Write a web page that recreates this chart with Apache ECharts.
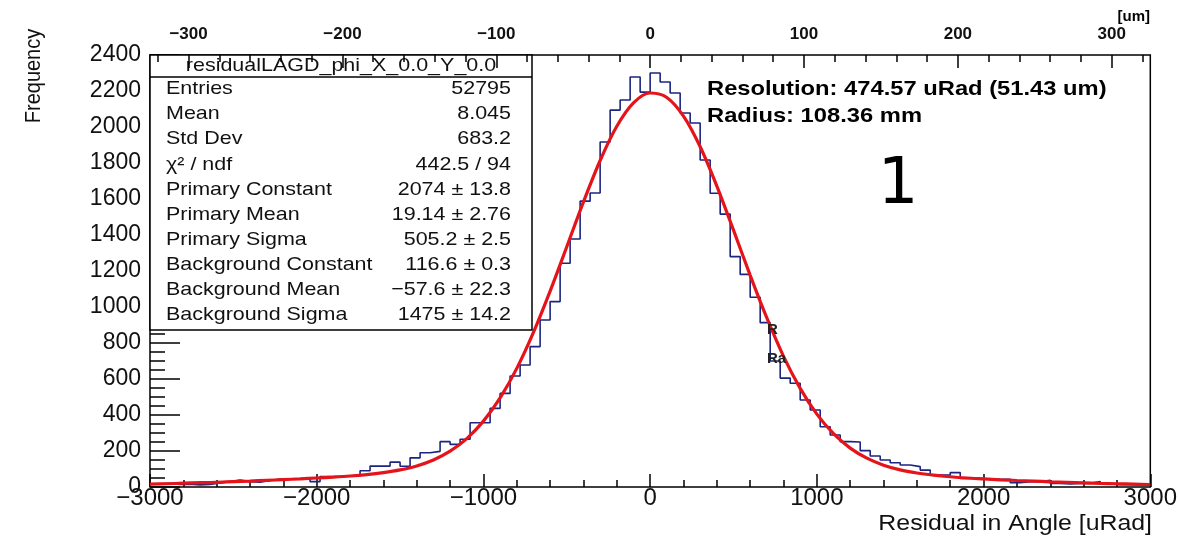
<!DOCTYPE html>
<html>
<head>
<meta charset="utf-8">
<script src="https://cdn.jsdelivr.net/npm/echarts@6/dist/echarts.min.js"></script>
<style>
  html, body { margin: 0; padding: 0; background: #fff; }
  #main { width: 1180px; height: 543px; }
</style>
</head>
<body>
<div id="main"></div>
<script>
/* histogram: 100 bins of 60 uRad from -3000 to 3000 */
const binMin = -3000;
const binWidth = 60;
const counts = [
    18, 20, 14, 16, 12, 14, 22, 30, 38, 30,
    26, 36, 44, 46, 44, 46, 30, 58, 58, 60,
    68, 90, 116, 116, 138, 115, 162, 190, 198, 252,
    237, 265, 357, 357, 437, 520, 617, 678, 780, 928,
    1030, 1243, 1378, 1588, 1633, 1917, 2094, 2150, 2278, 2194,
    2300, 2250, 2189, 2078, 2022, 1817, 1632, 1516, 1280, 1181,
    1054, 913, 700, 605, 576, 483, 428, 335, 289, 252,
    250, 202, 172, 150, 135, 122, 113, 94, 67, 67,
    80, 48, 48, 43, 43, 43, 24, 30, 30, 37,
    20, 17, 20, 20, 31, 17, 13, 13, 12, 10
];

/* red fit curve, read every 100 uRad */
const fitX = [
    -3000, -2900, -2800, -2700, -2600, -2500, -2400, -2300, -2200, -2100,
    -2000, -1900, -1800, -1700, -1600, -1500, -1400, -1300, -1200, -1100,
    -1000, -900, -800, -700, -600, -500, -400, -300, -200, -100,
    0, 100, 200, 300, 400, 500, 600, 700, 800, 900,
    1000, 1100, 1200, 1300, 1400, 1500, 1600, 1700, 1800, 1900,
    2000, 2100, 2200, 2300, 2400, 2500, 2600, 2700, 2800, 2900, 3000
];
const fitY = [
    16, 18, 21, 24, 26, 30, 33, 37, 41, 45,
    50, 55, 61, 69, 80, 95, 117, 150, 199, 269,
    366, 495, 659, 859, 1088, 1335, 1584, 1814, 2004, 2134,
    2189, 2164, 2060, 1890, 1672, 1427, 1176, 939, 726, 548,
    405, 296, 216, 160, 121, 95, 78, 66, 57, 50,
    45, 40, 36, 33, 29, 26, 23, 20, 18, 16, 14
];

/* top axis in um (radius 108.36 mm) */
const radiusMM = 108.36;
const topLabels = [-300, -200, -100, 0, 100, 200, 300];
const topMinorTicks = [-320, -300, -280, -260, -240, -220, -200, -180, -160, -140, -120, -100, -80, -60, -40, -20,
    0, 20, 40, 60, 80, 100, 120, 140, 160, 180, 200, 220, 240, 260, 280, 300, 320];

/* stats box */
const statTitle = 'residualLAGD_phi_X_0.0_Y_0.0';
const statNames = ['Entries', 'Mean', 'Std Dev', 'χ² / ndf', 'Primary Constant', 'Primary Mean',
    'Primary Sigma', 'Background Constant', 'Background Mean', 'Background Sigma'];
const statValues = ['52795', '8.045', '683.2', '442.5 / 94', '2074 ± 13.8', '19.14 ± 2.76',
    '505.2 ± 2.5', '116.6 ± 0.3', '\u221257.6 ± 22.3', '1475 ± 14.2'];

const font = '"Liberation Sans", Arial, Helvetica, sans-serif';
const minus = v => String(v).replace('-', '\u2212');

// histogram outline points at bin edges
let histData = counts.map((c, i) => [binMin + i * binWidth, c]);
histData.push([binMin + counts.length * binWidth, counts[counts.length - 1]]);

let fitData = fitX.map((x, i) => [x, fitY[i]]);

const umMax = 3000 * radiusMM / 1000;

// stats texts
let graphics = [
    {
        type: 'rect', z: 5,
        shape: { x: 150, y: 55, width: 382, height: 275 },
        style: { fill: '#fff', stroke: '#000', lineWidth: 1.5 }
    },
    {
        type: 'line', z: 6,
        shape: { x1: 150, y1: 77, x2: 532, y2: 77 },
        style: { stroke: '#000', lineWidth: 1.5 }
    },
    {
        type: 'text', z: 6, x: 341, y: 66, scaleX: 1.13,
        style: { text: statTitle, font: '19px ' + font, fill: '#111', align: 'center', verticalAlign: 'middle' }
    }
];
statNames.forEach((name, i) => {
    let y = 89 + 25.1 * i;
    graphics.push({
        type: 'text', z: 6, x: 166, y: y, scaleX: 1.13,
        style: { text: name, font: '19px ' + font, fill: '#111', align: 'left', verticalAlign: 'middle' }
    });
    graphics.push({
        type: 'text', z: 6, x: 511, y: y, scaleX: 1.13,
        style: { text: statValues[i], font: '19px ' + font, fill: '#111', align: 'right', verticalAlign: 'middle' }
    });
});

// other texts
graphics.push(
    {
        type: 'text', z: 6, x: 707, y: 89, scaleX: 1.13,
        style: { text: 'Resolution: 474.57 uRad (51.43 um)', font: 'bold 21px ' + font, fill: '#000', verticalAlign: 'middle' }
    },
    {
        type: 'text', z: 6, x: 707, y: 116, scaleX: 1.13,
        style: { text: 'Radius: 108.36 mm', font: 'bold 21px ' + font, fill: '#000', verticalAlign: 'middle' }
    },
    {
        type: 'text', z: 6, x: 898, y: 186,
        style: { text: '1', font: '64px "DejaVu Sans", sans-serif', fill: '#000', align: 'center', verticalAlign: 'middle' }
    },
    {
        type: 'text', z: 6, x: 767, y: 330,
        style: { text: 'R', font: 'bold 15px ' + font, fill: '#222', verticalAlign: 'middle' }
    },
    {
        type: 'text', z: 6, x: 767, y: 359,
        style: { text: 'Ra', font: 'bold 15px ' + font, fill: '#222', verticalAlign: 'middle' }
    },
    {
        type: 'text', z: 6, x: 1152, y: 524, scaleX: 1.13,
        style: { text: 'Residual in Angle [uRad]', font: '22px ' + font, fill: '#111', align: 'right', verticalAlign: 'middle' }
    },
    {
        type: 'text', z: 6, x: 34, y: 76, rotation: Math.PI / 2, scaleY: 1.1,
        style: { text: 'Frequency', font: '20px ' + font, fill: '#111', align: 'center', verticalAlign: 'middle' }
    },
    {
        type: 'text', z: 6, x: 1150, y: 17,
        style: { text: '[um]', font: 'bold 15px ' + font, fill: '#000', align: 'right', verticalAlign: 'middle' }
    }
);

var chart = echarts.init(document.getElementById('main'), null, { renderer: 'canvas' });
var option = {
    animation: false,
    backgroundColor: '#fff',
    grid: {
        left: 150,
        right: 28,
        top: 55,
        bottom: 56,
        show: true,
        borderColor: '#000',
        borderWidth: 1.5,
        backgroundColor: 'transparent'
    },
    xAxis: [
        {
            type: 'value',
            min: -3000,
            max: 3000,
            interval: 1000,
            position: 'bottom',
            axisLine: { show: false, onZero: false },
            axisTick: { inside: true, length: 13, lineStyle: { color: '#000', width: 1.5 } },
            minorTick: { show: true, splitNumber: 5, length: 7, lineStyle: { color: '#000', width: 1.5 } },
            splitLine: { show: false },
            axisLabel: {
                margin: -1,
                fontSize: 24,
                fontFamily: font,
                color: '#111',
                formatter: v => minus(v)
            }
        },
        {
            type: 'value',
            min: -umMax,
            max: umMax,
            position: 'top',
            z: 10,
            axisLine: { show: false, onZero: false },
            axisTick: { inside: true, length: 13, customValues: topLabels, lineStyle: { color: '#000', width: 1.5 } },
            splitLine: { show: false },
            axisLabel: {
                customValues: topLabels,
                margin: 12,
                fontSize: 17,
                fontWeight: 'bold',
                fontFamily: font,
                color: '#111',
                formatter: v => minus(v)
            }
        },
        {
            type: 'value',
            min: -umMax,
            max: umMax,
            position: 'top',
            z: 10,
            axisLine: { show: false, onZero: false },
            axisTick: { inside: true, length: 7, customValues: topMinorTicks, lineStyle: { color: '#000', width: 1.5 } },
            splitLine: { show: false },
            axisLabel: { show: false }
        }
    ],
    yAxis: {
        type: 'value',
        min: 0,
        max: 2400,
        interval: 200,
        position: 'left',
        axisLine: { show: false, onZero: false },
        axisTick: { inside: true, length: 30, lineStyle: { color: '#000', width: 1.5 } },
        minorTick: { show: true, splitNumber: 4, length: 15, lineStyle: { color: '#000', width: 1.5 } },
        splitLine: { show: false },
        axisLabel: {
            margin: 9,
            fontSize: 23,
            fontFamily: font,
            color: '#111',
            formatter: v => String(v)
        }
    },
    graphic: graphics,
    series: [
        {
            name: 'residual',
            type: 'line',
            step: 'end',
            symbol: 'none',
            data: histData,
            z: 3,
            lineStyle: { color: '#1c2580', width: 1.6 }
        },
        {
            name: 'fit',
            type: 'line',
            smooth: 0.3,
            symbol: 'none',
            data: fitData,
            z: 4,
            lineStyle: { color: '#e5141b', width: 3.2 }
        }
    ]
};
chart.setOption(option);

window.addEventListener('resize', function () {
    chart.resize();
});
</script>
</body>
</html>
